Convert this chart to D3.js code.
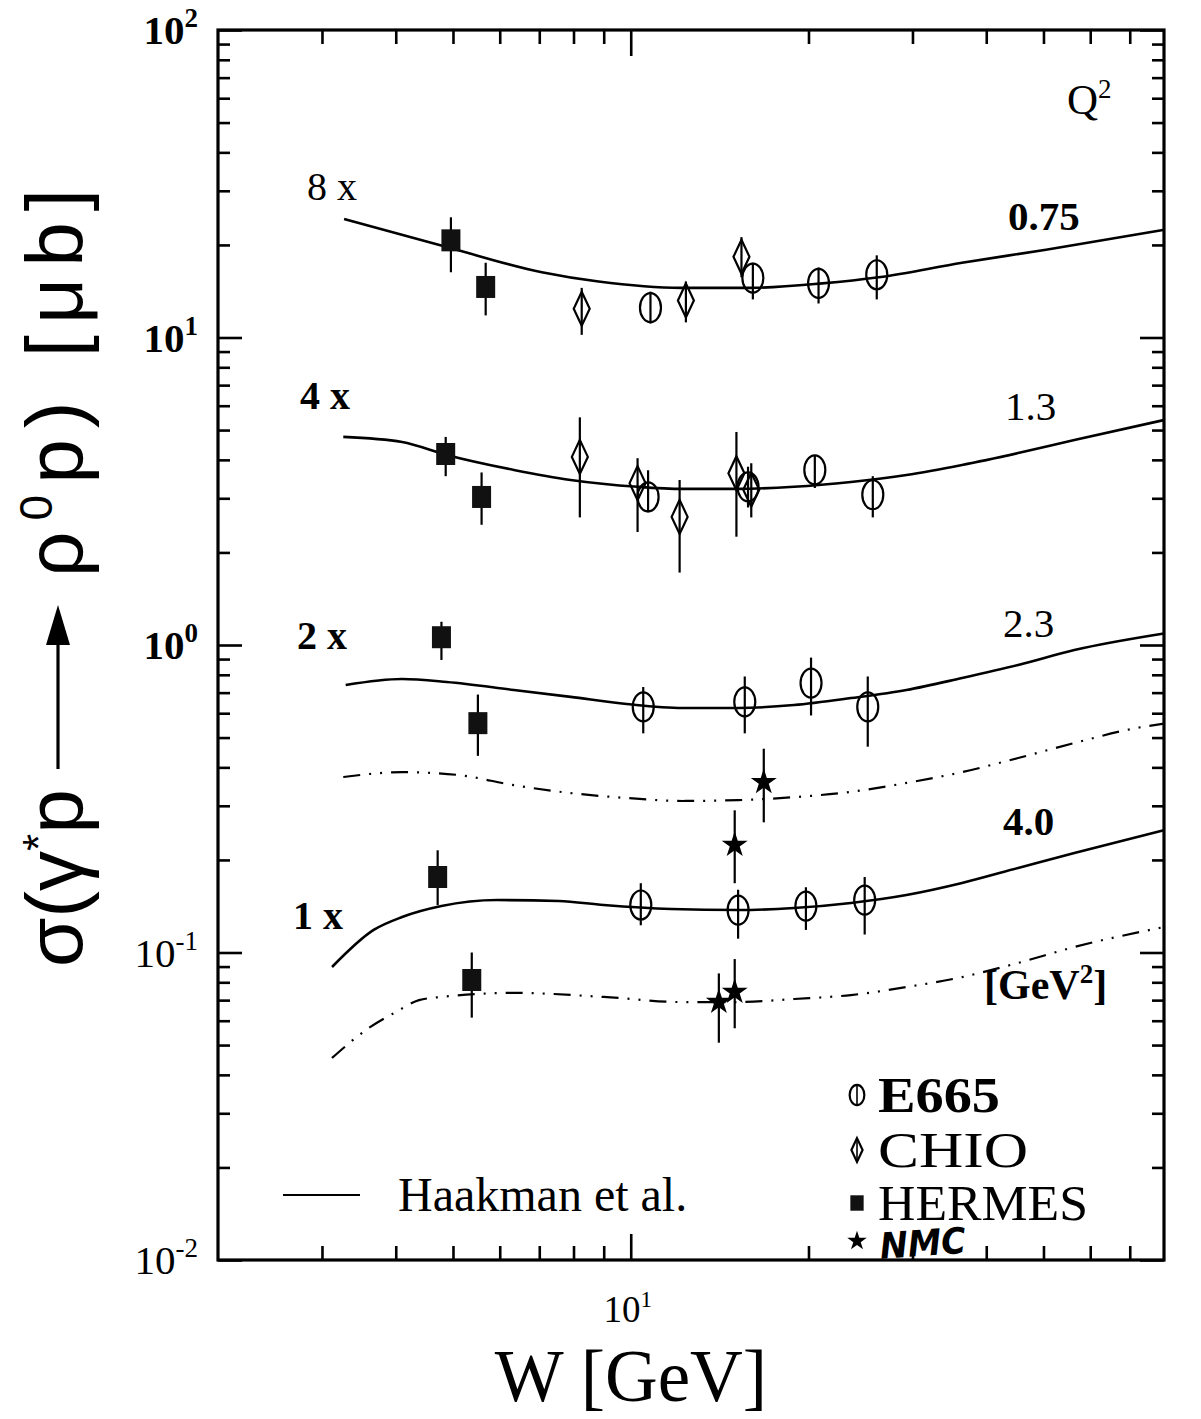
<!DOCTYPE html>
<html>
<head>
<meta charset="utf-8">
<script src="https://cdn.jsdelivr.net/npm/d3@7"></script>
<style>
  body { margin: 0; background: #fff; }
  svg { display: block; }
</style>
</head>
<body>
<svg id="chart" width="1201" height="1419"></svg>
<script>
// ---- Axis ticks ----
const wMinorTicks = [3, 4, 5, 6, 7, 8, 9, 20, 30, 40, 50, 60, 70];
const wMajorTicks = [10];
const wTickLabels = [{ w: 10, base: "10", exp: "1" }];
const sigmaMajorTicks = [0.01, 0.1, 1, 10, 100];
const sigmaTickExp = ["-2", "-1", "0", "1", "2"];
const sigmaTickBold = [false, false, true, true, true];
const sigmaMinorTicks = [0.01, 0.1, 1, 10].flatMap(d => d3.range(2, 10).map(m => m * d));

// ---- Haakman et al. model curves (as plotted, scale factors applied) ----
// Q2 = 0.75 GeV2 (x8)
const hkW_075 = [3.27, 4.88, 7.07, 8.82, 12.2, 15.9, 21.1, 26.3, 36.4, 50.5, 80];
const hkS_075 = [24.3, 19.7, 16.3, 15.2, 14.5, 14.5, 15.0, 15.7, 17.5, 19.3, 22.4];
// Q2 = 1.3 GeV2 (x4)
const hkW_13 = [3.26, 4.10, 4.88, 6.34, 7.91, 10.27, 12.24, 15.2, 18.9, 23.6, 29.3, 36.4, 45.3, 56.4, 80];
const hkS_13 = [4.75, 4.57, 4.15, 3.71, 3.44, 3.27, 3.22, 3.22, 3.27, 3.39, 3.57, 3.85, 4.21, 4.64, 5.39];
// Q2 = 2.3 GeV2 (x2)
const hkW_23 = [3.29, 4.10, 4.88, 6.34, 7.91, 9.84, 12.24, 15.2, 18.9, 23.6, 29.3, 36.4, 45.3, 56.4, 80];
const hkS_23 = [0.741, 0.775, 0.758, 0.714, 0.678, 0.643, 0.624, 0.624, 0.638, 0.672, 0.714, 0.781, 0.861, 0.963, 1.09];
// Q2 = 4.0 GeV2 (x1)
const hkW_40 = [3.12, 3.67, 4.10, 4.78, 5.94, 7.55, 9.0, 11.7, 15.2, 18.9, 23.6, 29.3, 36.4, 45.3, 56.4, 80];
const hkS_40 = [0.0897, 0.1184, 0.1304, 0.1416, 0.1481, 0.1471, 0.1427, 0.1385, 0.1374, 0.1395, 0.1449, 0.1538, 0.1683, 0.1883, 0.2107, 0.250];

// dash-dotted companion curves
const ddW_23 = [3.26, 4.10, 5.09, 6.34, 7.91, 9.84, 12.24, 15.2, 18.9, 23.6, 29.3, 36.4, 45.3, 56.4, 71.8, 80];
const ddS_23 = [0.372, 0.386, 0.378, 0.350, 0.330, 0.318, 0.311, 0.313, 0.320, 0.333, 0.356, 0.386, 0.429, 0.480, 0.537, 0.555];
const ddW_40 = [3.12, 3.6, 4.0, 4.38, 4.78, 6.34, 9.0, 12.2, 15.2, 18.9, 23.6, 29.3, 36.4, 45.3, 56.4, 80];
const ddS_40 = [0.0454, 0.0568, 0.064, 0.070, 0.0717, 0.0739, 0.0717, 0.0690, 0.0690, 0.0706, 0.0727, 0.0772, 0.0832, 0.0925, 0.1042, 0.121];

// ---- Measurements: W [GeV], sigma, error band lo/hi (as plotted) ----
const e665 = [
  { w: 10.8, s: 12.5, lo: 11.1, hi: 14.1 },
  { w: 16.1, s: 15.6, lo: 13.3, hi: 17.5 },
  { w: 20.8, s: 15.0, lo: 12.9, hi: 16.9 },
  { w: 26.1, s: 16.0, lo: 13.3, hi: 18.5 },
  { w: 10.7, s: 3.03, lo: 2.70, hi: 3.70 },
  { w: 15.8, s: 3.27, lo: 2.80, hi: 3.80 },
  { w: 20.5, s: 3.71, lo: 3.24, hi: 4.14 },
  { w: 25.7, s: 3.08, lo: 2.60, hi: 3.54 },
  { w: 10.5, s: 0.629, lo: 0.516, hi: 0.73 },
  { w: 15.6, s: 0.653, lo: 0.516, hi: 0.79 },
  { w: 20.2, s: 0.752, lo: 0.59, hi: 0.91 },
  { w: 25.2, s: 0.629, lo: 0.467, hi: 0.79 },
  { w: 10.4, s: 0.1427, lo: 0.1226, hi: 0.168 },
  { w: 15.2, s: 0.1374, lo: 0.1109, hi: 0.160 },
  { w: 19.8, s: 0.1416, lo: 0.1184, hi: 0.163 },
  { w: 24.9, s: 0.1481, lo: 0.1144, hi: 0.176 }
];
const chio = [
  { w: 8.26, s: 12.4, lo: 10.2, hi: 14.5 },
  { w: 12.4, s: 13.2, lo: 11.2, hi: 15.2 },
  { w: 15.4, s: 18.3, lo: 15.7, hi: 21.2 },
  { w: 8.2, s: 4.09, lo: 2.60, hi: 5.50 },
  { w: 10.27, s: 3.36, lo: 2.33, hi: 4.05 },
  { w: 12.1, s: 2.61, lo: 1.72, hi: 3.44 },
  { w: 15.1, s: 3.62, lo: 2.25, hi: 4.93 },
  { w: 16.0, s: 3.20, lo: 2.60, hi: 3.90 }
];
const hermes = [
  { w: 4.96, s: 20.7, lo: 16.3, hi: 24.6 },
  { w: 5.68, s: 14.6, lo: 11.8, hi: 17.5 },
  { w: 4.86, s: 4.18, lo: 3.54, hi: 4.75 },
  { w: 5.59, s: 3.03, lo: 2.46, hi: 3.64 },
  { w: 4.78, s: 1.06, lo: 0.894, hi: 1.19 },
  { w: 5.51, s: 0.557, lo: 0.436, hi: 0.69 },
  { w: 4.71, s: 0.176, lo: 0.1426, hi: 0.215 },
  { w: 5.38, s: 0.0814, lo: 0.0614, hi: 0.100 }
];
const nmc = [
  { w: 16.8, s: 0.358, lo: 0.265, hi: 0.46 },
  { w: 15.0, s: 0.2237, lo: 0.168, hi: 0.29 },
  { w: 14.1, s: 0.069, lo: 0.0509, hi: 0.0855 },
  { w: 15.0, s: 0.0744, lo: 0.0567, hi: 0.0952 }
];

// ---- Text annotations ----
const bandScaleLabels = [
  { t: "8 x", x: 307, y: 200, bold: false },
  { t: "4 x", x: 300, y: 409, bold: true },
  { t: "2 x", x: 297, y: 649, bold: true },
  { t: "1 x", x: 293, y: 929, bold: true }
];
const q2Labels = [
  { t: "0.75", x: 1008, y: 230, bold: true },
  { t: "1.3", x: 1005, y: 420, bold: false },
  { t: "2.3", x: 1003, y: 637, bold: false },
  { t: "4.0", x: 1003, y: 835, bold: true }
];
const legendItems = [
  { name: "E665", kind: "e665", y: 1095, bold: true, len: 122 },
  { name: "CHIO", kind: "chio", y: 1150, bold: false, len: 150 },
  { name: "HERMES", kind: "hermes", y: 1203, bold: false, len: 210 }
];

// ---- Scales ----
const x = d3.scaleLog().domain([2, 80]).range([218, 1164]);
const y = d3.scaleLog().domain([0.01, 100]).range([1260, 30]);
const serif = "'Liberation Serif', 'Times New Roman', serif";
const sans = "'Liberation Sans', Arial, sans-serif";

const svg = d3.select("#chart");

// ---- Frame and ticks ----
function tickAxis(axisFn, scale, values, size, transform) {
  const g = svg.append("g")
    .attr("transform", transform)
    .call(axisFn(scale).tickValues(values).tickSize(size).tickFormat(""));
  g.select(".domain").remove();
  g.selectAll(".tick line").attr("stroke", "#000").attr("stroke-width", 2.6);
}
tickAxis(d3.axisBottom, x, wMinorTicks, -14, `translate(0,${y(0.01)})`);
tickAxis(d3.axisBottom, x, wMajorTicks, -26, `translate(0,${y(0.01)})`);
tickAxis(d3.axisTop, x, wMinorTicks, -14, `translate(0,${y(100)})`);
tickAxis(d3.axisTop, x, wMajorTicks, -26, `translate(0,${y(100)})`);
tickAxis(d3.axisLeft, y, sigmaMinorTicks, -12, `translate(${x(2)},0)`);
tickAxis(d3.axisLeft, y, sigmaMajorTicks, -24, `translate(${x(2)},0)`);
tickAxis(d3.axisRight, y, sigmaMinorTicks, -12, `translate(${x(80)},0)`);
tickAxis(d3.axisRight, y, sigmaMajorTicks, -24, `translate(${x(80)},0)`);

svg.append("rect")
  .attr("x", x(2)).attr("y", y(100))
  .attr("width", x(80) - x(2)).attr("height", y(0.01) - y(100))
  .attr("fill", "none").attr("stroke", "#000").attr("stroke-width", 3.2);

// ---- Tick labels ----
sigmaMajorTicks.forEach((v, i) => {
  const t = svg.append("text")
    .attr("x", 198).attr("y", y(v) + 14)
    .attr("text-anchor", "end")
    .attr("font-family", serif).attr("font-size", 41)
    .attr("font-weight", sigmaTickBold[i] ? "bold" : "normal");
  t.append("tspan").text("10");
  t.append("tspan").attr("dy", -17).attr("font-size", 27).text(sigmaTickExp[i]);
});
wTickLabels.forEach(d => {
  const t = svg.append("text")
    .attr("x", x(d.w) - 3).attr("y", y(0.01) + 62)
    .attr("text-anchor", "middle")
    .attr("font-family", serif).attr("font-size", 37);
  t.append("tspan").text(d.base);
  t.append("tspan").attr("dy", -15).attr("font-size", 23).text(d.exp);
});

// ---- Axis titles ----
svg.append("text")
  .attr("x", 631).attr("y", 1401)
  .attr("text-anchor", "middle")
  .attr("font-family", serif).attr("font-size", 73)
  .text("W [GeV]");

// vertical title: sigma(gamma* p -> rho0 p) [mub], reading bottom to top
const yTitle = svg.append("g").attr("transform", "translate(82,967) rotate(-90)");
const yt1 = yTitle.append("text").attr("x", 0).attr("y", 0)
  .attr("font-family", sans).attr("font-size", 80);
yt1.append("tspan").text("σ(γ");
yt1.append("tspan").attr("dy", -28).attr("font-size", 44).text("*");
yt1.append("tspan").attr("dy", 28).text("p");
// arrow between the two halves
yTitle.append("line")
  .attr("x1", 198).attr("x2", 330).attr("y1", -24).attr("y2", -24)
  .attr("stroke", "#000").attr("stroke-width", 3.2);
yTitle.append("path")
  .attr("d", "M 322 -36 L 362 -24 L 322 -12 Z").attr("fill", "#000");
const yt2 = yTitle.append("text").attr("x", 390).attr("y", 0)
  .attr("font-family", sans).attr("font-size", 80)
  .attr("textLength", 388).attr("lengthAdjust", "spacing");
yt2.append("tspan").text("ρ");
yt2.append("tspan").attr("dy", -30).attr("font-size", 46).text("0");
yt2.append("tspan").attr("dy", 30).text("p) [μb]");

// ---- Model curves ----
const line = d3.line().x(d => x(d[0])).y(d => y(d[1])).curve(d3.curveMonotoneX);
const zip = (a, b) => a.map((w, i) => [w, b[i]]);
const plot = svg.append("g");

[[hkW_075, hkS_075], [hkW_13, hkS_13], [hkW_23, hkS_23], [hkW_40, hkS_40]].forEach(([w, s]) => {
  plot.append("path").attr("d", line(zip(w, s)))
    .attr("fill", "none").attr("stroke", "#000").attr("stroke-width", 2.6);
});
[[ddW_23, ddS_23], [ddW_40, ddS_40]].forEach(([w, s]) => {
  plot.append("path").attr("d", line(zip(w, s)))
    .attr("fill", "none").attr("stroke", "#000").attr("stroke-width", 2.2)
    .attr("stroke-dasharray", "17,9,2,9,2,9");
});

// ---- Marker shapes ----
function drawMarker(g, kind, cx, cy, size) {
  const k = size || 1;
  if (kind === "e665") {
    g.append("ellipse").attr("cx", cx).attr("cy", cy).attr("rx", 10.5 * k).attr("ry", 14.5 * k)
      .attr("fill", "none").attr("stroke", "#000").attr("stroke-width", 2.2);
  } else if (kind === "chio") {
    g.append("path")
      .attr("d", `M${cx},${cy - 17 * k} L${cx + 8 * k},${cy} L${cx},${cy + 17 * k} L${cx - 8 * k},${cy} Z`)
      .attr("fill", "none").attr("stroke", "#000").attr("stroke-width", 2.2);
  } else if (kind === "hermes") {
    g.append("rect").attr("x", cx - 9.5 * k).attr("y", cy - 11 * k)
      .attr("width", 19 * k).attr("height", 22 * k).attr("fill", "#111");
  } else if (kind === "nmc") {
    g.append("path").attr("transform", `translate(${cx},${cy})`)
      .attr("d", d3.symbol().type(d3.symbolStar).size(210 * k * k)()).attr("fill", "#000");
  }
}

function drawSet(data, kind) {
  const g = plot.append("g");
  data.forEach(d => {
    g.append("line")
      .attr("x1", x(d.w)).attr("x2", x(d.w))
      .attr("y1", y(d.lo)).attr("y2", y(d.hi))
      .attr("stroke", "#000").attr("stroke-width", 2.2);
    drawMarker(g, kind, x(d.w), y(d.s));
  });
}
drawSet(hermes, "hermes");
drawSet(chio, "chio");
drawSet(e665, "e665");
drawSet(nmc, "nmc");

// ---- Annotations ----
svg.append("text").attr("x", 1067).attr("y", 114)
  .attr("font-family", serif).attr("font-size", 43)
  .call(t => {
    t.append("tspan").text("Q");
    t.append("tspan").attr("dy", -16).attr("font-size", 27).text("2");
  });
bandScaleLabels.forEach(d => {
  svg.append("text").attr("x", d.x).attr("y", d.y)
    .attr("font-family", serif).attr("font-size", 40)
    .attr("font-weight", d.bold ? "bold" : "normal").text(d.t);
});
q2Labels.forEach(d => {
  svg.append("text").attr("x", d.x).attr("y", d.y)
    .attr("font-family", serif).attr("font-size", 41)
    .attr("font-weight", d.bold ? "bold" : "normal").text(d.t);
});
svg.append("text").attr("x", 984).attr("y", 999)
  .attr("font-family", serif).attr("font-size", 42).attr("font-weight", "bold")
  .call(t => {
    t.append("tspan").text("[GeV");
    t.append("tspan").attr("dy", -16).attr("font-size", 27).text("2");
    t.append("tspan").attr("dy", 16).text("]");
  });

// ---- Legend ----
const legend = svg.append("g");
legend.append("line").attr("x1", 283).attr("x2", 360).attr("y1", 1195).attr("y2", 1195)
  .attr("stroke", "#000").attr("stroke-width", 2.2);
legend.append("text").attr("x", 398).attr("y", 1211)
  .attr("font-family", serif).attr("font-size", 48).text("Haakman et al.");
legendItems.forEach(d => {
  const lx = 857;
  if (d.kind !== "hermes") {
    legend.append("line").attr("x1", lx).attr("x2", lx)
      .attr("y1", d.y - 10).attr("y2", d.y + 10)
      .attr("stroke", "#000").attr("stroke-width", 1.6);
  }
  drawMarker(legend, d.kind, lx, d.y, 0.7);
  legend.append("text").attr("x", 878).attr("y", d.y + 17)
    .attr("font-family", serif).attr("font-size", 50)
    .attr("font-weight", d.bold ? "bold" : "normal")
    .attr("textLength", d.len).attr("lengthAdjust", "spacingAndGlyphs")
    .text(d.name);
});
drawMarker(legend, "nmc", 857, 1241, 0.75);
legend.append("text").attr("x", 880).attr("y", 1256)
  .attr("font-family", "'DejaVu Sans', sans-serif").attr("font-size", 36)
  .attr("font-weight", "bold").attr("font-style", "italic")
  .attr("textLength", 86).attr("lengthAdjust", "spacingAndGlyphs")
  .attr("transform", "rotate(-4 920 1245)")
  .text("NMC");
</script>
</body>
</html>
